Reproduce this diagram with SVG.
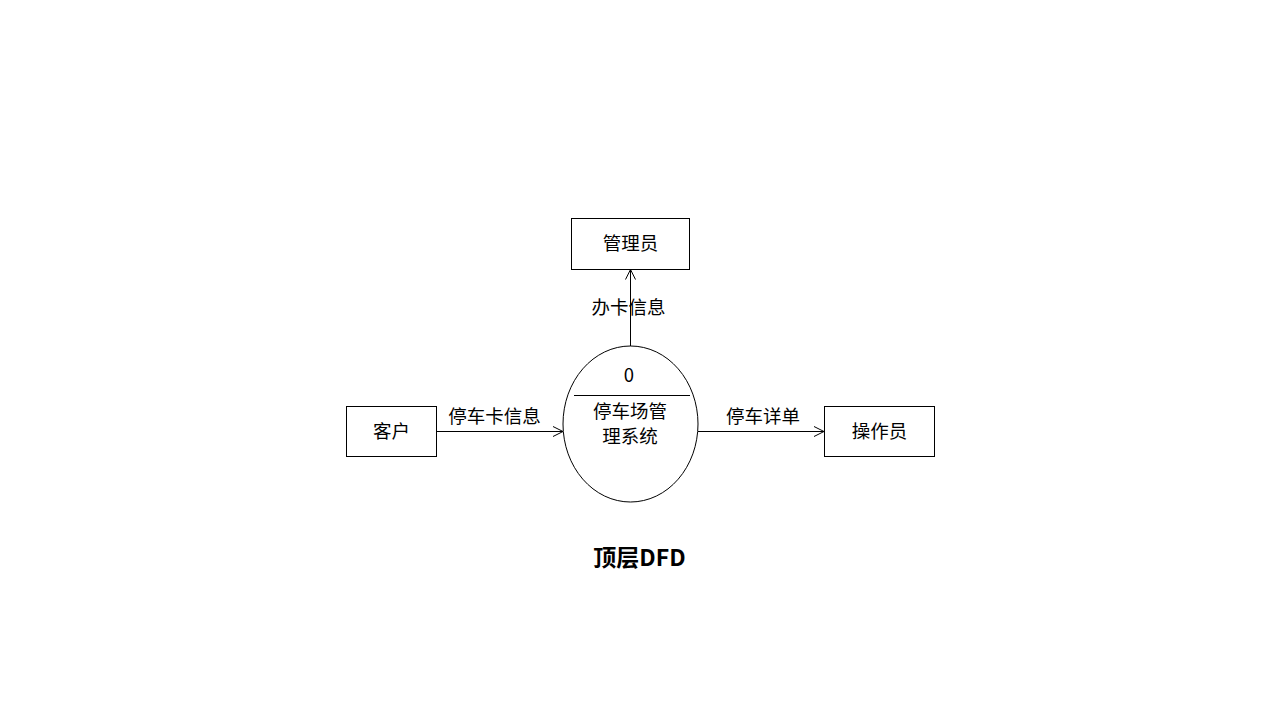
<svg xmlns="http://www.w3.org/2000/svg" width="1280" height="720" viewBox="0 0 1280 720">
  <defs>
    <marker id="arrow" viewBox="0 0 12 12" refX="11" refY="6" markerWidth="12" markerHeight="12" markerUnits="userSpaceOnUse" orient="auto">
      <path d="M1,1 L11,6 L1,11" fill="none" stroke="#000" stroke-width="1"/>
    </marker>
    <style>
      .box { fill: #fff; stroke: #000; stroke-width: 1; }
      .lbl { font-family: "Noto Sans CJK SC", "Noto Sans", sans-serif; font-size: 18.5px; fill: #000; text-anchor: middle; }
      .flow { stroke: #000; stroke-width: 1; fill: none; marker-end: url(#arrow); }
      .title { font-family: "Noto Sans CJK SC", "Noto Sans", sans-serif; font-size: 23px; font-weight: bold; fill: #000; text-anchor: middle; }
    </style>
  </defs>
  <rect width="1280" height="720" fill="#fff"/>

  <!-- data flows -->
  <g id="connectors">
    <line class="flow" x1="436.5" y1="431.5" x2="563" y2="431.5"/>
    <line class="flow" x1="630.5" y1="346" x2="630.5" y2="269.5"/>
    <line class="flow" x1="698" y1="431.5" x2="824" y2="431.5"/>
    <text class="lbl" x="494.5" y="423">停车卡信息</text>
    <text class="lbl" x="628.5" y="314">办卡信息</text>
    <text class="lbl" x="763" y="423">停车详单</text>
  </g>

  <g id="admin">
    <rect class="box" x="571.5" y="218.5" width="118" height="51"/>
    <text class="lbl" x="630.5" y="250">管理员</text>
  </g>

  <g id="customer">
    <rect class="box" x="346.5" y="406.5" width="90" height="50"/>
    <text class="lbl" x="391.5" y="438">客户</text>
  </g>

  <g id="operator">
    <rect class="box" x="824.5" y="406.5" width="110" height="50"/>
    <text class="lbl" x="879.5" y="438">操作员</text>
  </g>

  <g id="process0">
    <ellipse class="box" cx="630.5" cy="424" rx="67.5" ry="78"/>
    <line x1="574" y1="395.5" x2="690" y2="395.5" stroke="#000" stroke-width="1"/>
    <text class="lbl" x="629" y="382">0</text>
    <text class="lbl" x="630" y="418">停车场管</text>
    <text class="lbl" x="630" y="443">理系统</text>
  </g>

  <text class="title" x="639.5" y="566">顶层DFD</text>
</svg>
